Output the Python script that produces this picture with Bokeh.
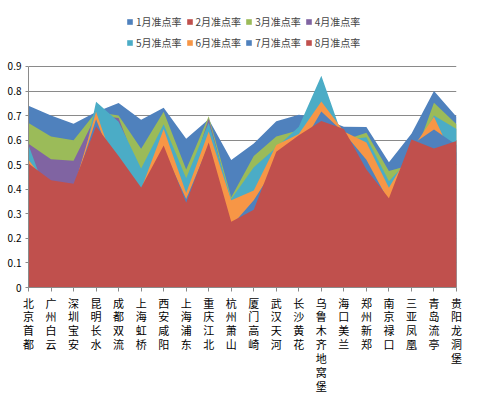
from bokeh.plotting import figure
from bokeh.models import (ColumnDataSource, FixedTicker, NumeralTickFormatter,
                          Legend, LegendItem, Range1d)
from bokeh.embed import file_html
from bokeh.resources import INLINE

airports = ["北京首都", "广州白云", "深圳宝安", "昆明长水", "成都双流", "上海虹桥",
            "西安咸阳", "上海浦东", "重庆江北", "杭州萧山", "厦门高崎", "武汉天河",
            "长沙黄花", "乌鲁木齐地窝堡", "海口美兰", "郑州新郑", "南京禄口",
            "三亚凤凰", "青岛流亭", "贵阳龙洞堡"]

series_names = ["1月准点率", "2月准点率", "3月准点率", "4月准点率",
                "5月准点率", "6月准点率", "7月准点率", "8月准点率"]

m1 = [0.740, 0.700, 0.667, 0.715, 0.751, 0.683, 0.732, 0.606, 0.685, 0.519,
      0.586, 0.677, 0.703, 0.690, 0.655, 0.654, 0.510, 0.626, 0.800, 0.695]
m2 = [0.600, 0.500, 0.480, 0.680, 0.600, 0.450, 0.620, 0.400, 0.620, 0.330,
      0.450, 0.520, 0.600, 0.720, 0.600, 0.550, 0.400, 0.550, 0.680, 0.600]
m3 = [0.670, 0.615, 0.600, 0.715, 0.700, 0.565, 0.716, 0.480, 0.697, 0.368,
      0.535, 0.615, 0.640, 0.660, 0.600, 0.630, 0.474, 0.500, 0.752, 0.665]
m4 = [0.585, 0.522, 0.516, 0.700, 0.690, 0.450, 0.600, 0.400, 0.688, 0.340,
      0.450, 0.550, 0.600, 0.650, 0.580, 0.550, 0.400, 0.450, 0.620, 0.550]
m5 = [0.580, 0.330, 0.330, 0.756, 0.675, 0.485, 0.665, 0.445, 0.672, 0.360,
      0.490, 0.570, 0.655, 0.862, 0.600, 0.612, 0.433, 0.530, 0.700, 0.645]
m6 = [0.520, 0.400, 0.400, 0.716, 0.450, 0.400, 0.645, 0.385, 0.635, 0.355,
      0.395, 0.580, 0.625, 0.757, 0.635, 0.590, 0.406, 0.560, 0.695, 0.500]
m7 = [0.480, 0.420, 0.400, 0.685, 0.450, 0.390, 0.560, 0.360, 0.580, 0.250,
      0.355, 0.500, 0.560, 0.717, 0.630, 0.520, 0.350, 0.580, 0.643, 0.580]
m8 = [0.505, 0.437, 0.422, 0.657, 0.535, 0.407, 0.578, 0.345, 0.590, 0.268,
      0.317, 0.553, 0.620, 0.678, 0.645, 0.480, 0.363, 0.603, 0.566, 0.597]

y_ticks = [0, 0.1, 0.2, 0.3, 0.4, 0.5, 0.6, 0.7, 0.8, 0.9]

colors = ["#4F81BD", "#C0504D", "#9BBB59", "#8064A2",
          "#4BACC6", "#F79646", "#4F81BD", "#C0504D"]

all_series = [m1, m2, m3, m4, m5, m6, m7, m8]
data = {"x": list(range(len(airports)))}
for i, s in enumerate(all_series):
    data["m%d" % (i + 1)] = s
source = ColumnDataSource(data)

# frame extends above 0.9 to leave room for the legend inside it
p = figure(width=476, height=397, output_backend="svg", toolbar_location=None,
           x_range=Range1d(0, len(airports) - 1), y_range=Range1d(0, 1.132),
           min_border_left=28, min_border_right=20, min_border_top=9,
           min_border_bottom=110)
p.outline_line_color = None
p.background_fill_color = "white"

renderers = []
for i in range(8):
    r = p.varea(x="x", y1=0, y2="m%d" % (i + 1), source=source,
                fill_color=colors[i], fill_alpha=1.0)
    renderers.append(r)

axis_col = "#8A8A8A"
cjk = "Noto Sans CJK SC"

p.xgrid.visible = False
p.ygrid.grid_line_color = axis_col
p.ygrid.grid_line_width = 1
p.ygrid.ticker = FixedTicker(ticks=y_ticks)

p.yaxis.ticker = FixedTicker(ticks=y_ticks)
p.yaxis.bounds = (y_ticks[0], y_ticks[-1])
p.yaxis.formatter = NumeralTickFormatter(format="0.[0]")
p.yaxis.axis_line_color = axis_col
p.yaxis.major_tick_line_color = axis_col
p.yaxis.major_tick_in = 0
p.yaxis.major_tick_out = 3
p.yaxis.minor_tick_line_color = None
p.yaxis.major_label_standoff = 4
p.yaxis.major_label_text_font = cjk
p.yaxis.major_label_text_font_size = "10px"
p.yaxis.major_label_text_color = "#000000"

p.xaxis.ticker = FixedTicker(ticks=list(range(len(airports))))
p.xaxis.major_label_overrides = {i: "\n".join(list(n)) for i, n in enumerate(airports)}
p.xaxis.axis_line_color = axis_col
p.xaxis.major_tick_line_color = axis_col
p.xaxis.major_tick_in = 0
p.xaxis.major_tick_out = 4
p.xaxis.minor_tick_line_color = None
p.xaxis.major_label_standoff = 3
p.xaxis.major_label_text_font = cjk
p.xaxis.major_label_text_font_size = "11px"
p.xaxis.major_label_text_color = "#000000"
p.xaxis.major_label_text_line_height = 0.87

items = [LegendItem(label=n, renderers=[r]) for n, r in zip(series_names, renderers)]
legend = Legend(items=items, orientation="horizontal", ncols=4,
                location=(98, 236), padding=0, margin=0, spacing=4,
                glyph_width=7, glyph_height=7, label_height=17,
                label_standoff=3, label_text_font=cjk,
                label_text_font_size="10px", border_line_color=None,
                background_fill_alpha=0)
p.add_layout(legend, "center")

open("out.html", "w").write(file_html(p, INLINE))
